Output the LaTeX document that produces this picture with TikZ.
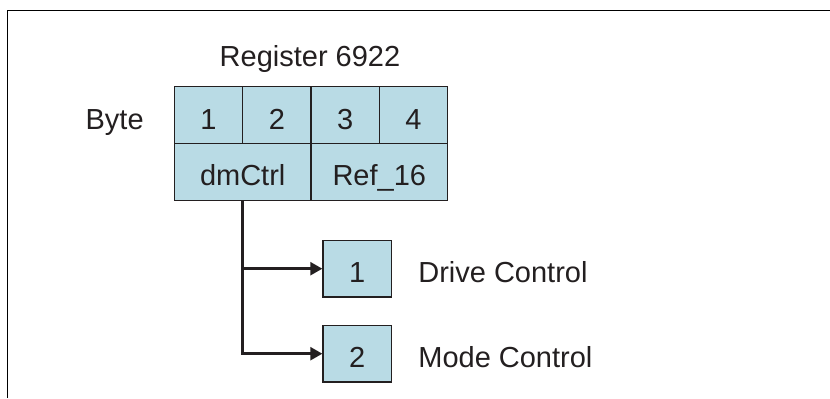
\documentclass[tikz,border=0pt]{standalone}
\usepackage{fontspec}
\setmainfont{Liberation Sans}
\usepackage{tikz}
\usetikzlibrary{positioning,arrows.meta}
\definecolor{regblue}{RGB}{185,219,229}
\definecolor{ink}{RGB}{35,31,32}

\begin{document}
\begin{tikzpicture}[
  every node/.style={font=\fontsize{16.5}{19}\selectfont, text=ink},
  cell/.style={rectangle, draw=ink, line width=0.8pt, fill=regblue, minimum width=1.367cm, minimum height=1.136cm, inner sep=0pt, text height=16pt, text depth=0pt},
  lbl/.style={inner sep=0pt, text height=16pt, text depth=0pt},
  conn/.style={draw=ink, line width=1.4pt, -{Triangle[length=0.24cm,width=0.26cm]}}
]
  \useasboundingbox (0,0) rectangle (16.6,-7.96);
  \draw[line width=0.6pt] (0.146,-7.96) |- (16.6,-0.206);

  \node[inner sep=0pt, anchor=base] (reg) at (6.2,-1.333) {Register 6922};
  \node[lbl, anchor=east] (byte) at (2.88,-2.3) {Byte};

  % byte row
  \node[cell] (c1) at (4.170,-2.3) {1};
  \node[cell] (c2) at (5.537,-2.3) {2};
  \node[cell] (c3) at (6.904,-2.3) {3};
  \node[cell] (c4) at (8.271,-2.3) {4};

  % word row
  \node[cell, minimum width=2.734cm] (dm) at (4.854,-3.436) {dmCtrl};
  \node[cell, minimum width=2.734cm] (rf) at (7.586,-3.436) {Ref\_16};

  \node[cell] (dc) at (7.144,-5.374) {1};
  \node[cell] (mc) at (7.144,-7.074) {2};
  \node[lbl, anchor=west] (dcl) at (8.36,-5.374) {Drive Control};
  \node[lbl, anchor=west] (mcl) at (8.36,-7.074) {Mode Control};

  \draw[conn] (dm.south) |- (mc);
  \draw[conn] (dm.south |- dc) -- (dc);
\end{tikzpicture}
\end{document}
